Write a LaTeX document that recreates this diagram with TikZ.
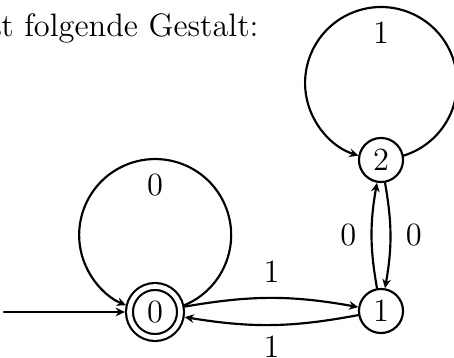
\documentclass[tikz,border=0pt]{standalone}
\usepackage{amsmath,amssymb}
\usepackage{tikz}
\usetikzlibrary{arrows.meta}
\usepackage{xcolor}
\begin{document}
\begin{tikzpicture}[x=0.37pt,y=0.37pt,>={Stealth[length=3.4pt,width=3.2pt]},font=\large,line cap=round,
  state/.style={circle,draw,thick,minimum size=16.3pt,inner sep=0pt},
  accepting/.style={double,double distance=1.75pt,minimum size=18.9pt,outer sep=1.7pt},
  edge/.style={->,thick}]
\useasboundingbox (0,0) rectangle (454,358);
\node[anchor=base east] (title) at (268,321) {at folgende Gestalt:};
\node[state,accepting] (q0) at (155,46) {$0$};
\node[state] (q1) at (381,47) {$1$};
\node[state] (q2) at (381,198) {$2$};
\coordinate (start) at (4,46);
\draw[edge] (start) -- (q0);
\draw[edge] (q0.13) arc[start angle=-67.4,end angle=247.4,radius=76] node[midway,below=2pt] {$0$};
\draw[edge] (q2.11) arc[start angle=-72.7,end angle=252.7,radius=76] node[midway,below=2pt] {$1$};
\draw[edge] (q0) to[bend left=10] node[above=2pt] {$1$} (q1);
\draw[edge] (q1) to[bend left=10] node[below=0.5pt] {$1$} (q0);
\draw[edge] (q1) to[bend left=10] node[left=2pt] {$0$} (q2);
\draw[edge] (q2) to[bend left=10] node[right=2pt] {$0$} (q1);
\end{tikzpicture}
\end{document}
